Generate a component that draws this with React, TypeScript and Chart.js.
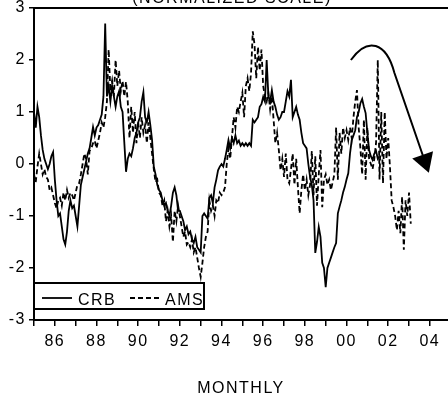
import React, { useEffect, useRef } from 'react';
import { Chart, registerables } from 'chart.js';

Chart.register(...registerables);

// ---- data ----
const START_YEAR = 1985; // first monthly observation: Jan 1985
const X_MIN = 1985;
const X_MAX = 2004.87;
const Y_MIN = -3;
const Y_MAX = 3;
const X_LABEL_YEARS = [1986, 1988, 1990, 1992, 1994, 1996, 1998, 2000, 2002, 2004];
const TITLE = '(NORMALIZED SCALE)';
const X_TITLE = 'MONTHLY';
const SERIES_NAMES = ['CRB', 'AMS'];

// CRB index, normalized, monthly from Jan 1985
const crb: number[] = [
  1.0, 0.7, 1.1, 0.9, 0.55, 0.27, 0.1, 0.0, -0.1, 0.0, 0.15, 0.23, // 1985
  -0.3, -0.7, -1.0, -0.95, -1.2, -1.45, -1.55, -1.3, -0.9, -0.7, -0.85, -0.8, // 1986
  -1.0, -1.2, -0.8, -0.4, -0.25, -0.1, 0.05, 0.2, 0.3, 0.5, 0.71, 0.55, // 1987
  0.7, 0.75, 0.85, 0.95, 1.3, 2.7, 1.3, 1.5, 1.2, 1.5, 1.3, 1.1, // 1988
  1.3, 1.4, 1.1, 1.0, 0.42, -0.15, 0.1, 0.2, 0.15, 0.3, 0.5, 0.6, // 1989
  0.8, 0.9, 1.2, 1.38, 0.9, 0.8, 1.0, 0.75, 0.46, -0.05, -0.2, -0.4, // 1990
  -0.5, -0.55, -0.7, -0.8, -0.75, -0.9, -1.0, -0.8, -0.55, -0.45, -0.6, -0.9, // 1991
  -0.9, -1.0, -1.1, -1.27, -1.2, -1.35, -1.3, -1.45, -1.52, -1.4, -1.6, -1.65, // 1992
  -1.7, -1.0, -0.95, -1.0, -1.05, -0.65, -0.6, -0.75, -0.45, -0.3, -0.12, -0.05, // 1993
  0.0, -0.05, 0.1, 0.27, 0.46, 0.3, 0.5, 0.4, 0.55, 0.4, 0.45, 0.35, // 1994
  0.4, 0.35, 0.4, 0.35, 0.4, 0.35, 0.85, 0.8, 0.85, 0.9, 1.1, 1.15, // 1995
  1.29, 1.2, 2.0, 1.3, 1.2, 1.42, 1.2, 1.1, 0.95, 0.85, 0.9, 1.0, // 1996
  1.0, 1.2, 1.4, 1.3, 1.62, 0.9, 1.0, 1.1, 0.95, 0.85, 0.6, 0.4, // 1997
  0.35, 0.3, 0.0, -0.25, -0.4, -0.7, -1.71, -1.5, -1.21, -1.4, -1.9, -2.0, // 1998
  -2.37, -2.0, -1.9, -1.8, -1.7, -1.6, -1.52, -0.95, -0.82, -0.7, -0.55, -0.44, // 1999
  -0.3, -0.18, 0.2, 0.46, 0.55, 0.65, 0.9, 1.0, 1.17, 1.25, 1.1, 0.98, // 2000
  0.6, 0.27, 0.15, 0.08, 0.2, 0.25, 0.1, 0.15, // 2001
];

// AMS index, normalized, monthly from Jan 1985
const ams: number[] = [
  -0.2, -0.35, -0.05, 0.2, 0.0, -0.2, -0.1, -0.25, -0.3, -0.5, -0.45, -0.6, // 1985
  -0.75, -0.85, -0.7, -0.65, -0.8, -0.55, -0.7, -0.5, -0.65, -0.55, -0.6, -0.7, // 1986
  -0.55, -0.4, -0.37, -0.2, 0.0, 0.2, 0.1, -0.2, 0.25, 0.3, 0.4, 0.45, // 1987
  0.3, 0.45, 0.6, 0.8, 0.7, 0.9, 1.2, 2.2, 1.4, 1.6, 1.3, 2.0, // 1988
  1.5, 1.8, 1.4, 1.6, 1.3, 1.58, 1.2, 0.5, 1.1, 0.6, 1.0, 0.4, // 1989
  0.8, 0.5, 0.9, 0.6, 0.75, 0.4, 0.8, 0.5, 0.2, -0.1, -0.35, -0.3, // 1990
  -0.55, -0.6, -0.8, -0.7, -1.1, -0.9, -1.2, -1.0, -1.5, -0.9, -1.1, -0.8, // 1991
  -1.0, -1.2, -1.4, -1.3, -1.55, -1.5, -1.6, -1.45, -1.7, -1.6, -1.8, -2.0, // 1992
  -2.17, -1.9, -1.6, -1.4, -1.3, -0.7, -0.9, -0.8, -1.0, -0.7, -0.75, -0.55, // 1993
  -0.6, -0.55, -0.45, 0.0, 0.3, 0.1, 0.5, 0.9, 0.7, 1.1, 1.0, 1.2, // 1994
  1.37, 0.9, 1.5, 1.65, 1.4, 1.75, 2.55, 2.3, 1.65, 2.25, 1.8, 2.2, // 1995
  1.5, 1.3, 1.2, 1.37, 1.05, 1.3, 0.85, 0.4, 0.6, 0.27, -0.12, 0.1, // 1996
  -0.25, 0.2, -0.3, -0.37, -0.1, 0.2, -0.4, 0.1, -0.45, -0.95, -0.5, -0.2, // 1997
  -0.5, -0.3, -0.6, -0.4, 0.25, -0.6, 0.15, -0.8, -0.2, 0.27, -0.83, -0.3, // 1998
  -0.2, -0.4, -0.3, -0.5, -0.35, -0.2, 0.7, -0.3, 0.6, 0.2, 0.7, 0.5, // 1999
  0.65, 0.46, 0.7, 0.5, 0.9, 1.2, 1.42, 0.7, 0.3, -0.2, 0.85, -0.3, // 2000
  0.7, 0.1, 0.0, -0.1, 0.1, 0.4, 2.0, -0.3, 1.0, -0.37, 1.0, 0.1, // 2001
  0.5, -0.05, -0.7, -0.83, -1.0, -1.27, -0.9, -1.33, -0.63, -1.65, -0.7, -1.0, // 2002
  -0.55, -1.15, // 2003
];

// hand-drawn arrow annotation, in data units (year, value)
const arrowCurve: [number, number][] = [
  [2000.21, 2.0],
  [2001.0, 2.45],
  [2001.9, 2.35],
  [2002.3, 1.75],
];
const arrowTip: [number, number] = [2003.95, -0.17];

const FONT_FAMILY = '"Liberation Sans", Arial, Helvetica, sans-serif';
const LETTER_SPACING = '1.5px';

const toPoints = (vals: number[]) =>
  vals.map((v, i) => ({ x: START_YEAR + i / 12, y: v }));

const decorPlugin = {
  id: 'decor',
  beforeUpdate(chart: any) {
    chart.ctx.letterSpacing = LETTER_SPACING;
  },
  beforeDraw(chart: any) {
    const ctx = chart.ctx;
    ctx.letterSpacing = LETTER_SPACING;
    ctx.save();
    ctx.fillStyle = '#fff';
    ctx.fillRect(0, 0, chart.width, chart.height);
    ctx.restore();
  },
  afterDraw(chart: any) {
    const { ctx, chartArea: ca } = chart;
    const xs = chart.scales.x;
    const ys = chart.scales.y;
    const px = (p: [number, number]) => [xs.getPixelForValue(p[0]), ys.getPixelForValue(p[1])];
    ctx.save();
    ctx.strokeStyle = '#000';
    ctx.fillStyle = '#000';
    ctx.letterSpacing = LETTER_SPACING;

    // top frame line
    ctx.lineWidth = 2;
    ctx.beginPath();
    ctx.moveTo(ca.left - 1, ca.top);
    ctx.lineTo(ca.right, ca.top);
    ctx.stroke();

    // title (clipped at top)
    ctx.font = `16px ${FONT_FAMILY}`;
    ctx.textAlign = 'center';
    ctx.textBaseline = 'alphabetic';
    ctx.fillText(TITLE, chart.width / 2 + 8, ca.top - 5);

    // legend box
    const lx = ca.left;
    const lTop = ca.bottom - 37;
    const lw = 170;
    const lh = 26;
    ctx.lineWidth = 2;
    ctx.strokeRect(lx, lTop, lw, lh);
    const midY = lTop + 15;
    ctx.lineWidth = 1.8;
    ctx.setLineDash([]);
    ctx.beginPath();
    ctx.moveTo(lx + 8, midY);
    ctx.lineTo(lx + 38, midY);
    ctx.stroke();
    ctx.setLineDash([5, 3]);
    ctx.beginPath();
    ctx.moveTo(lx + 96, midY);
    ctx.lineTo(lx + 125, midY);
    ctx.stroke();
    ctx.setLineDash([]);
    ctx.textAlign = 'left';
    ctx.textBaseline = 'alphabetic';
    ctx.fillText(SERIES_NAMES[0], lx + 44, lTop + 22);
    ctx.fillText(SERIES_NAMES[1], lx + 131, lTop + 22);

    // arrow
    const [p0, c1, c2, p3] = arrowCurve.map(px);
    const tip = px(arrowTip);
    const dx = tip[0] - p3[0];
    const dy = tip[1] - p3[1];
    const len = Math.hypot(dx, dy);
    const ux = dx / len;
    const uy = dy / len;
    const headLen = 19;
    const headHalf = 11;
    const bx = tip[0] - ux * headLen;
    const by = tip[1] - uy * headLen;
    ctx.lineWidth = 2;
    ctx.beginPath();
    ctx.moveTo(p0[0], p0[1]);
    ctx.bezierCurveTo(c1[0], c1[1], c2[0], c2[1], p3[0], p3[1]);
    ctx.lineTo(bx + ux * 2, by + uy * 2);
    ctx.stroke();
    ctx.beginPath();
    ctx.moveTo(tip[0], tip[1]);
    ctx.lineTo(bx - uy * headHalf, by + ux * headHalf);
    ctx.lineTo(bx + uy * headHalf, by - ux * headHalf);
    ctx.closePath();
    ctx.fill();

    ctx.restore();
  },
};

export default function App() {
  const ref = useRef<HTMLCanvasElement | null>(null);

  useEffect(() => {
    if (!ref.current) return;
    Chart.defaults.font.family = FONT_FAMILY;
    Chart.defaults.font.size = 16;
    Chart.defaults.color = '#000';

    const chart = new Chart(ref.current, {
      type: 'line',
      data: {
        datasets: [
          {
            label: SERIES_NAMES[0],
            data: toPoints(crb),
            borderColor: '#000',
            borderWidth: 1.8,
            pointRadius: 0,
            fill: false,
            tension: 0,
          },
          {
            label: SERIES_NAMES[1],
            data: toPoints(ams),
            borderColor: '#000',
            borderWidth: 1.8,
            borderDash: [5, 3],
            pointRadius: 0,
            fill: false,
            tension: 0,
          },
        ],
      },
      options: {
        animation: false,
        responsive: false,
        devicePixelRatio: 1,
        events: [],
        layout: { padding: 0 },
        plugins: {
          legend: { display: false },
          tooltip: { enabled: false },
          title: { display: false },
        },
        scales: {
          x: {
            type: 'linear',
            min: X_MIN,
            max: X_MAX,
            bounds: 'data',
            afterFit: (s: any) => {
              s.height = 78;
              s.paddingLeft = 0;
              s.paddingRight = 0;
            },
            grid: {
              display: true,
              drawOnChartArea: false,
              drawTicks: true,
              tickLength: 6,
              color: '#000',
              lineWidth: 1.5,
            },
            border: { display: true, color: '#000', width: 2 },
            ticks: {
              stepSize: 1,
              includeBounds: false,
              autoSkip: false,
              maxRotation: 0,
              minRotation: 0,
              padding: 6,
              color: '#000',
              font: { size: 16 },
              callback: (v: any) => {
                const yr = Math.round(Number(v));
                return X_LABEL_YEARS.includes(yr) ? String(yr % 100).padStart(2, '0') : '';
              },
            },
            title: {
              display: true,
              text: X_TITLE,
              color: '#000',
              font: { size: 16 },
              padding: { top: 0, bottom: 0 },
            },
          },
          y: {
            type: 'linear',
            min: Y_MIN,
            max: Y_MAX,
            afterFit: (s: any) => {
              s.width = 34;
              s.paddingTop = 8;
              s.paddingBottom = 8;
            },
            grid: {
              display: true,
              drawOnChartArea: false,
              drawTicks: true,
              tickLength: 5,
              color: '#000',
              lineWidth: 1.5,
            },
            border: { display: true, color: '#000', width: 2 },
            ticks: {
              stepSize: 1,
              padding: 3,
              color: '#000',
              font: { size: 16, lineHeight: 1 },
              callback: (v: any) => String(v),
            },
          },
        },
      },
      plugins: [decorPlugin],
    });
    return () => chart.destroy();
  }, []);

  return (
    <div style={{ position: 'absolute', left: 0, top: 0, width: 448, height: 398, background: '#fff' }}>
      <canvas ref={ref} width={448} height={398} style={{ display: 'block', width: 448, height: 398 }} />
    </div>
  );
}
